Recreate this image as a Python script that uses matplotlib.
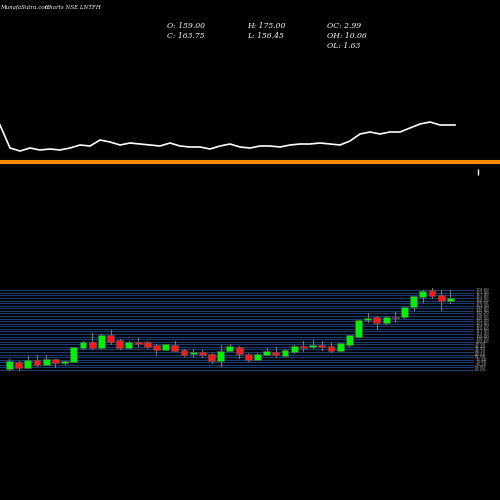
import numpy as np
import matplotlib
matplotlib.use("Agg")
import matplotlib.pyplot as plt

# daily candles (open, high, low, close)
opens = [64.4, 74.2, 65.8, 77, 70, 78.4, 72.8, 74.2, 93.8, 102.2, 93.8, 112, 105, 93.8, 102.2, 102.2,
         98, 91, 98, 91, 85.4, 88.2, 85.4, 75.6, 89.6, 95.2, 85.4, 77, 84, 88.2, 82.6, 88.2, 96.6,
         95.2, 98, 96.6, 89.6, 98, 109.2, 133, 137.2, 128.8, 137.2, 137.2, 151.2, 165.2, 175, 168, 159]
highs = [78.4, 75.6, 82.6, 84, 84, 78.4, 75.6, 95.2, 103.6, 114.8, 113.4, 119, 106.4, 103.6, 107.8, 103.6,
         99.4, 99.4, 103.6, 92.4, 92.4, 91, 86.8, 98, 99.4, 96.6, 86.8, 86.8, 93.8, 95.2, 92.4, 98, 103.6,
         105, 103.6, 100.8, 100.8, 112, 133, 142.8, 138.6, 138.6, 144.2, 151.2, 166.6, 175, 177.8, 175, 175]
lows = [63, 63, 65.8, 68.6, 70, 67.2, 71.4, 74.2, 92.4, 92.4, 93.8, 99.4, 92.4, 93.8, 96.6, 93.8,
        85.4, 91, 89.6, 82.6, 81.2, 81.2, 72.8, 68.6, 89.6, 79.8, 75.6, 77, 84, 81.2, 82.6, 86.8, 89.6,
        93.8, 91, 88.2, 89.6, 96.6, 109.2, 130.2, 120.4, 127.4, 130.2, 135.8, 147, 158.2, 163.8, 147, 156.45]
closes = [75.6, 65.8, 77, 70, 78.4, 72.8, 75.6, 95.2, 102.2, 93.8, 112, 102.2, 93.8, 102.2, 99.4, 95.2,
          91, 99.4, 89.6, 84, 88.2, 84, 75.6, 89.6, 96.6, 85.4, 77, 85.4, 89.6, 84, 91, 96.6, 93.8,
          98, 95.2, 89.6, 100.8, 112, 133, 135.8, 128.8, 137.2, 135.8, 151.2, 166.6, 173.6, 166.6, 159.6, 163.75]

# upper panel line
line_x = [0, 10, 20, 30, 40, 50, 60, 70, 80, 90, 100, 110, 120, 130, 140, 150, 160, 170, 180, 190, 200,
          210, 220, 230, 240, 250, 260, 270, 280, 290, 300, 310, 320, 330, 340, 350, 360, 370, 380, 390,
          400, 410, 420, 430, 440, 450, 455]
line_y = [55, 32, 29, 32, 30, 31, 30, 32, 35, 34, 40, 38, 35, 37, 36, 35, 34, 37, 34, 33, 33,
          31, 34, 36, 33, 32, 34, 34, 33, 35, 36, 36, 37, 36, 35, 39, 46, 48, 46, 48,
          48, 52, 56, 58, 55, 55, 55]
orange_level = 18

fig = plt.figure(figsize=(5, 5), dpi=100, facecolor="black")

top = fig.add_axes([0, 0.64, 1, 0.16], facecolor="black")
top.set_xlim(0, 500)
top.set_ylim(0, 80)
top.plot(line_x, line_y, color="white", lw=1.2)
top.axhline(orange_level, color="#ff8c00", lw=3)
top.plot([478], [8], marker="|", color="white", ms=4)
top.axis("off")

ax = fig.add_axes([0, 0.2, 1, 0.4], facecolor="black")
n = len(opens)
xs = np.arange(n)
ax.set_xlim(-1.03, 53.4)
ax.set_ylim(21, 301)
ax.axis("off")

for lvl in np.arange(63, 178, 3.6):
    ax.plot([-1.03, 50.5], [lvl, lvl], color="#1b3d73", lw=0.8, zorder=0)
    ax.text(50.7, lvl, f"{lvl:.2f}", color="#aaaaaa", fontsize=2.8, va="center", ha="left")

for i in range(n):
    o, h, l, c = opens[i], highs[i], lows[i], closes[i]
    col = "#00ee00" if c >= o else "#ff1a1a"
    ax.plot([xs[i], xs[i]], [l, h], color="#777777", lw=0.8, zorder=1)
    body = max(abs(c - o), 1.0)
    ax.bar(xs[i], body, bottom=min(o, c), width=0.75, color=col, edgecolor="#555555", lw=0.4, zorder=2)

font = dict(color="white", fontsize=5.5, family="DejaVu Serif", style="italic")
small = dict(font, fontsize=4)
fig.text(0.0, 0.99, "MunafaSutra.com", va="top", **small)
fig.text(0.09, 0.99, "Charts NSE LNTFH", va="top", **small)
fig.text(0.334, 0.955, "O: 159.00", va="top", **font)
fig.text(0.334, 0.935, "C: 163.75", va="top", **font)
fig.text(0.494, 0.955, "H: 175.00", va="top", **font)
fig.text(0.494, 0.935, "L: 156.45", va="top", **font)
fig.text(0.654, 0.955, "OC: 2.99", va="top", **font)
fig.text(0.654, 0.935, "OH: 10.06", va="top", **font)
fig.text(0.654, 0.915, "OL: 1.63", va="top", **font)

fig.savefig("out.png", dpi=100, facecolor="black")
